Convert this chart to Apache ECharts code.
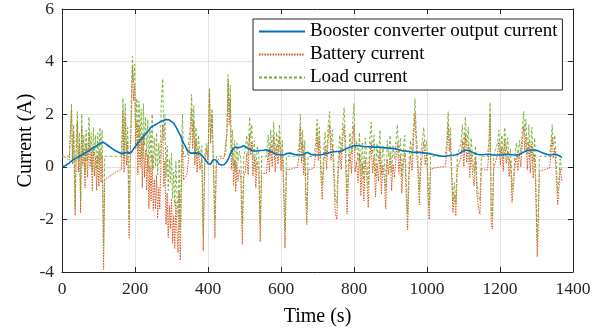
<!DOCTYPE html>
<html>
<head>
<meta charset="utf-8">
<script src="https://cdn.jsdelivr.net/npm/echarts@6/dist/echarts.min.js"></script>
<style>
  html, body { margin: 0; padding: 0; background: #fff; }
  #chart { width: 607px; height: 332px; }
</style>
</head>
<body>
<div id="chart"></div>
<script>
// time (s)
var timeSec = [
  0, 5, 10, 15, 20, 24,
  26, 29, 32, 36, 39, 42, 45, 48, 51, 54, 57, 60, 63, 66, 70, 74, 77, 80, 83, 86, 89, 92, 95, 98, 101, 104, 107, 110, 114, 117,
  125, 135, 145, 155, 163,
  167, 170, 173, 177, 180, 184, 187, 190, 193, 196, 199, 202, 205, 208, 211,
  214, 217, 220, 223, 226, 229, 232, 235, 238, 241, 244, 247, 250, 253, 256,
  259, 262, 265, 268, 272, 276, 279, 282, 285, 288, 291, 294, 297, 300, 303,
  306, 309, 312, 315, 318, 321, 324, 327, 330, 333,
  338, 343, 348,
  352, 355, 358, 361, 364, 367, 370, 374, 378, 383, 387, 391, 396, 400, 404,
  407, 411, 415, 419, 423, 430, 437, 444, 449,
  452, 455, 458, 461, 464, 467, 470, 473, 476, 479, 482, 486, 490, 494, 498,
  502, 506, 510, 514, 517, 520, 523, 527, 531, 535, 539, 543, 547,
  552, 560, 565, 568, 572, 576, 580, 584, 588, 592, 596, 600, 604, 608, 611,
  615, 625, 635, 645, 650, 653, 656, 659, 662, 665, 668, 671, 674, 682, 690,
  695, 699, 702, 705, 709, 713, 717, 721, 725, 729, 733, 737, 741, 745, 749,
  753, 757, 761, 765, 769, 773, 777, 781, 785, 789, 793, 797, 800, 803, 807,
  811, 815, 819, 823, 827, 831, 835, 839, 843, 847, 851, 855, 859, 863, 867,
  871, 875, 879, 883, 887, 891, 895, 899, 903, 907, 911, 915, 919, 923, 927,
  931, 935, 939, 943, 947, 951, 955, 959, 963, 967, 971, 975, 979, 983, 987,
  991, 995, 999, 1003, 1006, 1010, 1020, 1030, 1040, 1050,
  1054, 1058, 1061, 1064, 1067, 1071, 1075, 1079, 1083, 1088, 1093, 1097, 1101, 1105, 1109,
  1113, 1117, 1121, 1125, 1129, 1133, 1137, 1141, 1145, 1149, 1158, 1166, 1170, 1173, 1176,
  1179, 1183, 1188, 1193, 1197, 1201, 1205, 1209, 1213, 1217, 1221, 1225, 1229, 1233, 1237,
  1241, 1245, 1249, 1253, 1257, 1261, 1265, 1268, 1271, 1275, 1279, 1283, 1287, 1291, 1295,
  1299, 1302, 1305, 1308, 1318, 1328, 1336, 1340, 1343, 1346, 1350, 1354, 1358, 1361, 1365,
  1370
];

// booster converter output current (A)
var boosterCurrent = [
  0.0, 0.02, 0.05, 0.1, 0.15, 0.2,
  0.22, 0.25, 0.28, 0.3, 0.33, 0.35, 0.38, 0.4, 0.42, 0.45, 0.48, 0.5, 0.52, 0.55, 0.58, 0.62, 0.65, 0.68, 0.7, 0.72, 0.75, 0.78, 0.8, 0.83, 0.86, 0.9, 0.92, 0.95, 0.93, 0.9,
  0.82, 0.72, 0.62, 0.55, 0.5,
  0.5, 0.52, 0.53, 0.55, 0.55, 0.52, 0.5, 0.55, 0.6, 0.68, 0.75, 0.8, 0.86, 0.9, 0.95,
  1.0, 1.05, 1.1, 1.15, 1.2, 1.25, 1.3, 1.35, 1.4, 1.45, 1.5, 1.53, 1.56, 1.58, 1.6,
  1.63, 1.65, 1.67, 1.7, 1.72, 1.75, 1.77, 1.78, 1.8, 1.8, 1.8, 1.78, 1.76, 1.72, 1.7,
  1.66, 1.6, 1.52, 1.44, 1.36, 1.28, 1.2, 1.1, 1.0, 0.9,
  0.78, 0.62, 0.55,
  0.52, 0.52, 0.52, 0.53, 0.53, 0.52, 0.52, 0.52, 0.5, 0.45, 0.38, 0.3, 0.2, 0.12, 0.08,
  0.1, 0.2, 0.28, 0.3, 0.25, 0.1, 0.07, 0.08, 0.15,
  0.2, 0.28, 0.38, 0.48, 0.58, 0.65, 0.7, 0.73, 0.75, 0.75, 0.72, 0.7, 0.75, 0.8, 0.8,
  0.78, 0.73, 0.7, 0.67, 0.65, 0.63, 0.62, 0.6, 0.6, 0.6, 0.6, 0.62, 0.62,
  0.63, 0.65, 0.62, 0.6, 0.58, 0.55, 0.52, 0.5, 0.48, 0.47, 0.46, 0.45, 0.45, 0.46, 0.48,
  0.5, 0.52, 0.48, 0.45, 0.45, 0.45, 0.45, 0.46, 0.48, 0.5, 0.52, 0.55, 0.53, 0.48, 0.45,
  0.45, 0.45, 0.45, 0.45, 0.45, 0.47, 0.48, 0.5, 0.5, 0.52, 0.53, 0.55, 0.56, 0.57, 0.58,
  0.58, 0.58, 0.58, 0.6, 0.62, 0.65, 0.68, 0.7, 0.72, 0.74, 0.76, 0.78, 0.8, 0.8, 0.8,
  0.8, 0.8, 0.78, 0.78, 0.78, 0.77, 0.76, 0.76, 0.75, 0.75, 0.75, 0.75, 0.75, 0.75, 0.75,
  0.74, 0.74, 0.73, 0.73, 0.72, 0.72, 0.71, 0.7, 0.7, 0.7, 0.69, 0.68, 0.67, 0.65, 0.63,
  0.61, 0.6, 0.6, 0.6, 0.6, 0.58, 0.57, 0.56, 0.55, 0.55, 0.55, 0.55, 0.55, 0.55, 0.54,
  0.53, 0.52, 0.52, 0.5, 0.5, 0.48, 0.46, 0.43, 0.4, 0.4,
  0.4, 0.42, 0.42, 0.43, 0.43, 0.44, 0.45, 0.46, 0.48, 0.5, 0.55, 0.58, 0.6, 0.63, 0.64,
  0.63, 0.6, 0.57, 0.55, 0.52, 0.5, 0.48, 0.47, 0.46, 0.46, 0.47, 0.48, 0.48, 0.47, 0.46,
  0.45, 0.45, 0.45, 0.45, 0.45, 0.45, 0.45, 0.46, 0.47, 0.48, 0.48, 0.48, 0.47, 0.46, 0.45,
  0.45, 0.45, 0.45, 0.47, 0.5, 0.53, 0.56, 0.58, 0.6, 0.62, 0.63, 0.64, 0.64, 0.64, 0.64,
  0.63, 0.62, 0.6, 0.58, 0.52, 0.48, 0.45, 0.45, 0.46, 0.47, 0.48, 0.48, 0.45, 0.42, 0.4,
  0.35
];

// battery current (A)
var batteryCurrent = [
  0.4, 0.38, 0.35, 0.3, 0.25, 0.2,
  2.2, 0.1, 1.3, -1.85, 0.55, 1.7, -0.2, 0.9, -1.75, 1.5, 0.05, 0.7, -0.8, 0.9, -0.4, 1.3, 0.0, 0.65, -0.9, 0.8, -0.35, 0.4, -0.9, 0.45, -0.75, 0.6, -0.6, 0.45, -3.9, -0.5,
  -0.42, -0.32, -0.22, -0.15, -0.1,
  2.1, -0.22, 1.87, 0.05, 0.95, -2.7, 0.1, 1.95, 3.8, 2.52, 3.15, 0.7, 1.74, -0.3, 1.55,
  0.0, 1.15, -0.8, 1.25, -0.4, 0.65, -0.9, 0.45, -1.6, 0.05, -1.3, 0.47, -1.66, -0.48, -1.6,
  -0.33, -1.95, -0.77, -1.6, 0.68, 1.6, -0.77, 0.22, -2.2, -1.0, -2.7, -1.48, -2.36, -1.22, -2.9,
  -1.86, -3.1, -1.32, -2.44, -3.26, -0.98, -3.55, -1.0, 1.0, -0.5,
  -0.38, -0.22, -0.15,
  1.08, 2.23, 0.68, 1.77, 0.07, 0.98, -0.22, 0.68, -0.1, 0.35, -3.2, 0.1, 0.7, 0.18, 2.92,
  0.9, 2.0, -0.08, -2.7, 0.15, 0.3, 0.33, 0.32, 0.35,
  1.3, 3.25, 1.6, 2.6, -0.1, 0.75, -0.7, 0.25, -0.95, 0.15, -0.55, -0.1, -0.45, -2.95, -0.4,
  -0.2, 0.5, -0.3, 1.25, 0.45, 0.95, -0.35, 0.4, -0.8, 0.2, -0.1, -2.85, -0.25,
  -0.25, -0.25, 0.6, -0.2, 0.85, 0.0, 1.2, -0.2, 0.8, 0.1, 1.15, -0.15, 0.55, -1.3, -3.1,
  -0.1, -0.1, -0.05, -0.02, 0.45, 1.55, 0.15, 0.95, -0.3, 0.5, -1.35, -2.2, -0.12, -0.1, -0.05,
  0.45, 1.35, 0.25, 1.05, -0.25, -1.25, 0.1, 0.8, -0.1, 1.0, 1.6, 0.25, 0.85, -0.5, -1.8,
  -2.0, -0.2, 0.62, -0.1, 1.0, 1.6, 0.2, -1.8, -0.4, 0.55, -0.25, 1.0, 1.6, -0.2, 0.2,
  -0.6, 0.5, -1.1, 0.12, -1.3, 0.33, -0.45, -1.55, 0.25, 0.95, -0.25, 0.45, -1.15, 0.15, -0.55,
  0.65, -1.05, 0.07, -0.43, -1.6, 0.3, -0.3, 0.5, -0.9, 0.1, -0.4, 0.32, 0.93, -0.25, 0.47,
  -1.0, 0.0, 0.6, -1.1, -2.4, -0.27, 0.43, -0.15, 0.95, 2.05, 0.65, -0.15, -1.45, -0.05, 0.45,
  0.97, 0.07, 0.48, -1.1, -2.0, -0.08, -0.05, -0.02, 0.0, 0.0,
  0.5, 1.65, 0.58, 1.07, -0.23, -1.75, -1.05, -1.87, -0.08, -0.1, 0.35, 1.0, 0.0, 1.27, 0.16,
  0.87, -0.4, 0.53, -0.25, -0.72, 0.3, -1.08, -1.57, -1.8, -0.06, -0.1, -0.12, 0.65, 1.98, -2.15,
  -2.37, -0.05, -0.05, 0.45, 0.95, 0.05, 0.75, -0.17, 1.03, 0.12, 0.62, -0.38, 0.23, -1.36, -0.76,
  0.05, 0.45, -0.15, 0.53, 0.0, 0.87, 1.54, 0.62, 1.2, -0.12, 0.97, -0.24, 0.86, -0.44, 0.46,
  -1.63, -3.42, -2.1, -0.18, -0.12, -0.08, -0.05, 0.55, 1.15, 0.33, 0.72, -0.28, -1.45, -0.9, -0.08,
  -0.55
];

// load current (A)
var loadCurrent = [
  0.4, 0.4, 0.4, 0.4, 0.4, 0.4,
  2.4, 0.3, 1.6, -1.5, 0.9, 2.1, 0.2, 1.3, -1.3, 2.0, 0.5, 1.2, -0.3, 1.4, 0.2, 1.9, 0.6, 1.3, -0.2, 1.5, 0.4, 1.2, -0.1, 1.3, 0.1, 1.5, 0.3, 1.4, -3.0, 0.4,
  0.4, 0.4, 0.4, 0.4, 0.4,
  2.6, 0.3, 2.4, 0.6, 1.5, -2.0, 0.6, 2.5, 4.2, 3.2, 3.9, 1.5, 2.6, 0.6, 2.5,
  1.0, 2.2, 0.3, 2.4, 0.8, 1.9, 0.4, 1.8, -0.2, 1.5, 0.2, 2.0, -0.1, 1.1, 0.0,
  1.3, -0.3, 0.9, 0.1, 2.4, 3.35, 1.0, 2.0, -0.4, 0.8, -0.9, 0.3, -0.6, 0.5, -1.2,
  -0.2, -1.5, 0.2, -1.0, -1.9, 0.3, -2.35, 0.1, 2.0, 0.4,
  0.4, 0.4, 0.4,
  1.6, 2.75, 1.2, 2.3, 0.6, 1.5, 0.3, 1.2, 0.4, 0.8, -2.6, 0.4, 0.9, 0.3, 3.0,
  1.0, 2.2, 0.2, -2.0, 0.4, 0.4, 0.4, 0.4, 0.5,
  1.5, 3.5, 2.0, 3.1, 0.5, 1.4, 0.0, 1.0, -0.2, 0.9, 0.2, 0.6, 0.3, -2.2, 0.4,
  0.6, 1.2, 0.4, 1.9, 1.1, 1.6, 0.3, 1.0, -0.2, 0.8, 0.5, -2.2, 0.4,
  0.4, 0.4, 1.2, 0.4, 1.4, 0.5, 1.7, 0.3, 1.3, 0.6, 1.6, 0.3, 1.0, -0.8, -2.4,
  0.4, 0.4, 0.4, 0.4, 0.9, 2.0, 0.6, 1.4, 0.2, 1.0, -0.8, -1.6, 0.4, 0.4, 0.4,
  0.9, 1.8, 0.7, 1.5, 0.2, -0.7, 0.6, 1.3, 0.4, 1.5, 2.1, 0.8, 1.4, 0.1, -1.2,
  -1.4, 0.4, 1.2, 0.5, 1.6, 2.25, 0.9, -1.1, 0.3, 1.3, 0.5, 1.8, 2.4, 0.6, 1.0,
  0.2, 1.3, -0.3, 0.9, -0.5, 1.1, 0.3, -0.8, 1.0, 1.7, 0.5, 1.2, -0.4, 0.9, 0.2,
  1.4, -0.3, 0.8, 0.3, -0.9, 1.0, 0.4, 1.2, -0.2, 0.8, 0.3, 1.0, 1.6, 0.4, 1.1,
  -0.4, 0.6, 1.2, -0.5, -1.8, 0.3, 1.0, 0.4, 1.5, 2.6, 1.2, 0.4, -0.9, 0.5, 1.0,
  1.5, 0.6, 1.0, -0.6, -1.5, 0.4, 0.4, 0.4, 0.4, 0.4,
  0.9, 2.1, 1.0, 1.5, 0.2, -1.3, -0.6, -1.4, 0.4, 0.4, 0.9, 1.6, 0.6, 1.9, 0.8,
  1.5, 0.2, 1.1, 0.3, -0.2, 0.8, -0.6, -1.1, -1.3, 0.4, 0.4, 0.4, 1.1, 2.45, -1.7,
  -1.9, 0.4, 0.4, 0.9, 1.4, 0.5, 1.2, 0.3, 1.5, 0.6, 1.1, 0.1, 0.7, -0.9, -0.3,
  0.5, 0.9, 0.3, 1.0, 0.5, 1.4, 2.1, 1.2, 1.8, 0.5, 1.6, 0.4, 1.5, 0.2, 1.1,
  -1.0, -2.8, -1.5, 0.4, 0.4, 0.4, 0.4, 1.0, 1.6, 0.8, 1.2, 0.2, -1.0, -0.5, 0.3,
  -0.2
];

var xTicks = { min: 0, max: 1400, step: 200 };
var yTicks = { min: -4, max: 6, step: 2 };

function pairs(vals) {
  return timeSec.map(function (t, i) { return [t, vals[i]]; });
}

var serif = '"Liberation Serif", "Times New Roman", serif';
var axisColor = '#262626';
var plain = function (v) { return String(v); };

// shared look of the four box edges (MATLAB style, ticks pointing in)
function boxAxis(extra) {
  var base = {
    type: 'value',
    axisLine: { show: true, onZero: false, lineStyle: { color: axisColor, width: 1 } },
    axisTick: { show: true, inside: true, length: 5, lineStyle: { color: axisColor } },
    splitLine: { show: false },
    axisLabel: { show: false }
  };
  return Object.assign(base, extra);
}

var chart = echarts.init(document.getElementById('chart'));
chart.setOption({
  animation: false,
  textStyle: { fontFamily: serif },
  grid: { left: 62, right: 34, top: 7, bottom: 59 },
  legend: {
    left: 253,
    top: 19,
    orient: 'vertical',
    backgroundColor: '#fff',
    borderColor: axisColor,
    borderWidth: 1,
    padding: [3, 5, 3, 5],
    itemGap: 4,
    itemWidth: 46,
    itemHeight: 14,
    itemStyle: { opacity: 0 },
    textStyle: { fontFamily: serif, fontSize: 19, lineHeight: 19, color: '#000' },
    data: ['Booster converter output current', 'Battery current', 'Load current']
  },
  xAxis: [
    boxAxis({
      min: xTicks.min, max: xTicks.max, interval: xTicks.step,
      name: 'Time (s)',
      nameLocation: 'middle',
      nameGap: 35,
      nameMoveOverlap: false,
      nameTextStyle: { fontFamily: serif, fontSize: 20, color: '#000' },
      axisLabel: { show: true, formatter: plain, fontFamily: serif, fontSize: 17.5, color: axisColor, margin: 8 },
      splitLine: { show: true, lineStyle: { color: '#e3e3e3', width: 1 } }
    }),
    boxAxis({ position: 'top', min: xTicks.min, max: xTicks.max, interval: xTicks.step })
  ],
  yAxis: [
    boxAxis({
      min: yTicks.min, max: yTicks.max, interval: yTicks.step,
      name: 'Current (A)',
      nameLocation: 'middle',
      nameGap: 26,
      nameMoveOverlap: false,
      nameTextStyle: { fontFamily: serif, fontSize: 20, color: '#000' },
      axisLabel: { show: true, formatter: plain, fontFamily: serif, fontSize: 17.5, color: axisColor, margin: 8 },
      splitLine: { show: true, lineStyle: { color: '#e3e3e3', width: 1 } }
    }),
    boxAxis({ position: 'right', min: yTicks.min, max: yTicks.max, interval: yTicks.step })
  ],
  series: [{
    name: 'Booster converter output current',
    type: 'line',
    symbol: 'none',
    data: pairs(boosterCurrent),
    lineStyle: { color: '#0072BD', width: 1.6 },
    itemStyle: { color: '#0072BD' },
    z: 3
  }, {
    name: 'Battery current',
    type: 'line',
    symbol: 'none',
    data: pairs(batteryCurrent),
    lineStyle: { color: '#D95319', width: 1, type: [1.5, 1.2] },
    itemStyle: { color: '#D95319' },
    z: 2
  }, {
    name: 'Load current',
    type: 'line',
    symbol: 'none',
    data: pairs(loadCurrent),
    lineStyle: { color: '#77AC30', width: 0.9, type: [3, 2] },
    itemStyle: { color: '#77AC30' },
    z: 2
  }]
});
</script>
</body>
</html>
